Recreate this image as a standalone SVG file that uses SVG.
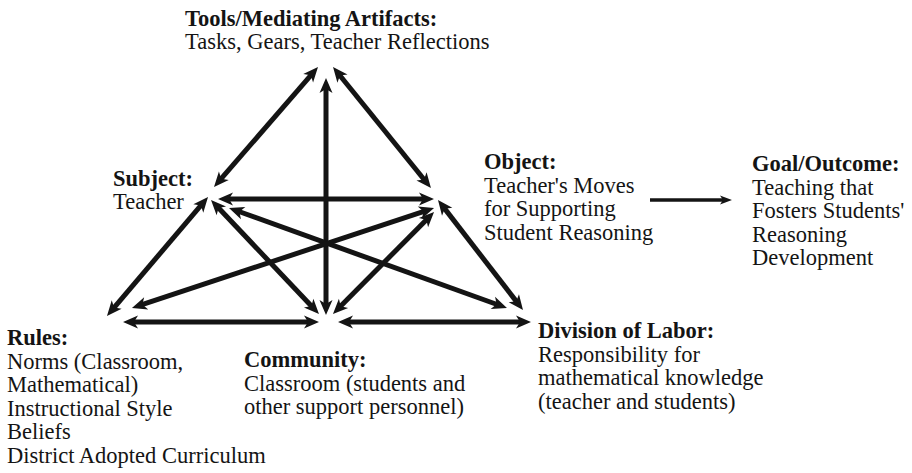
<svg xmlns="http://www.w3.org/2000/svg" width="912" height="473" viewBox="0 0 912 473">
  <style>
    text { font-family: "Liberation Serif", "Times New Roman", serif; font-size: 22.5px; fill: #141414; }
    .h { font-weight: bold; }
    .link { stroke: #141414; stroke-width: 5; fill: none; marker-start: url(#head); marker-end: url(#head); }
    .out { stroke: #141414; stroke-width: 3.5; fill: none; marker-end: url(#headSmall); }
  </style>
  <defs>
    <!-- double-headed connector tip: the point sits 9px past the line end -->
    <marker id="head" markerUnits="userSpaceOnUse" orient="auto-start-reverse" refX="0" refY="0" markerWidth="40" markerHeight="40" viewBox="-20 -20 40 40" overflow="visible">
      <path d="M9,0 L-6,-6.5 L-2,0 L-6,6.5 Z" fill="#141414"/>
    </marker>
    <marker id="headSmall" markerUnits="userSpaceOnUse" orient="auto" refX="0" refY="0" markerWidth="30" markerHeight="30" viewBox="-15 -15 30 30" overflow="visible">
      <path d="M8,0 L-4,-4.5 L-1,0 L-4,4.5 Z" fill="#141414"/>
    </marker>
  </defs>

  <!-- activity system connectors -->
  <g id="connectors">
    <line class="link" x1="312.1" y1="73.8" x2="219.9" y2="180.2"/>
    <line class="link" x1="338.7" y1="74.0" x2="425.3" y2="181.0"/>
    <line class="link" x1="326" y1="87" x2="326" y2="306"/>
    <line class="link" x1="227" y1="199" x2="425" y2="199"/>
    <line class="link" x1="202.2" y1="203.9" x2="112.8" y2="309.1"/>
    <line class="link" x1="217.2" y1="206.5" x2="312.8" y2="307.5"/>
    <line class="link" x1="237.5" y1="211.0" x2="498.5" y2="305.0"/>
    <line class="link" x1="425.5" y1="210.8" x2="140.5" y2="305.2"/>
    <line class="link" x1="427.7" y1="218.4" x2="339.3" y2="307.6"/>
    <line class="link" x1="443.5" y1="207.1" x2="517.5" y2="302.9"/>
    <line class="link" x1="132" y1="322" x2="310" y2="322"/>
    <line class="link" x1="347" y1="322" x2="522" y2="322"/>
    <line class="out" x1="650" y1="200" x2="724" y2="200"/>
  </g>

  <g id="tools">
    <text x="185" y="25.5" class="h">Tools/Mediating Artifacts:</text>
    <text x="185" y="49">Tasks, Gears, Teacher Reflections</text>
  </g>

  <g id="subject">
    <text x="113" y="186" class="h">Subject:</text>
    <text x="113" y="209">Teacher</text>
  </g>

  <g id="object">
    <text x="484" y="169" class="h">Object:</text>
    <text x="484" y="192.5">Teacher's Moves</text>
    <text x="484" y="216">for Supporting</text>
    <text x="484" y="239.5">Student Reasoning</text>
  </g>

  <g id="goal">
    <text x="752" y="171" class="h">Goal/Outcome:</text>
    <text x="752" y="194.5">Teaching that</text>
    <text x="752" y="218">Fosters Students'</text>
    <text x="752" y="241.5">Reasoning</text>
    <text x="752" y="265">Development</text>
  </g>

  <g id="rules">
    <text x="7" y="345" class="h">Rules:</text>
    <text x="7" y="368.5">Norms (Classroom,</text>
    <text x="7" y="392">Mathematical)</text>
    <text x="7" y="415.5">Instructional Style</text>
    <text x="7" y="439">Beliefs</text>
    <text x="7" y="462.5">District Adopted Curriculum</text>
  </g>

  <g id="community">
    <text x="244" y="367" class="h">Community:</text>
    <text x="244" y="390.5">Classroom (students and</text>
    <text x="244" y="414">other support personnel)</text>
  </g>

  <g id="division">
    <text x="538" y="338" class="h">Division of Labor:</text>
    <text x="538" y="361.5">Responsibility for</text>
    <text x="538" y="385">mathematical knowledge</text>
    <text x="538" y="408.5">(teacher and students)</text>
  </g>
</svg>
